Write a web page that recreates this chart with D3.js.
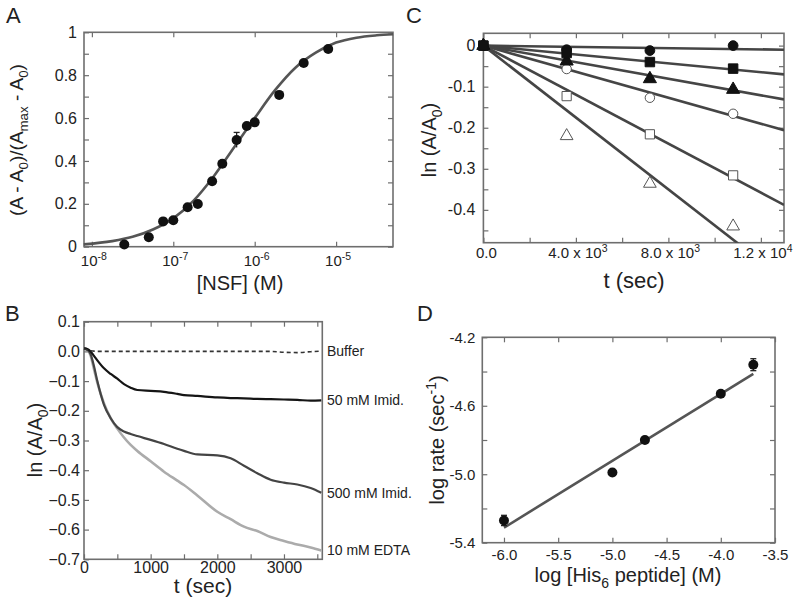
<!DOCTYPE html>
<html><head><meta charset="utf-8">
<script src="https://cdn.jsdelivr.net/npm/d3@7"></script>
<style>
body{margin:0;background:#fff}
svg{display:block}
text{font-family:"Liberation Sans",Arial,Helvetica,sans-serif;fill:#222;white-space:pre}
</style>
</head><body>
<svg id="c" width="800" height="603"></svg>
<script>
// ---------- Panel A data ----------
const nsfConc   = [2.5e-8,5e-8,7.5e-8,1e-7,1.5e-7,2e-7,3e-7,4e-7,6e-7,8e-7,1e-6,2e-6,4e-6,8e-6];
const nsfSignal = [0.01,0.044,0.118,0.123,0.184,0.199,0.305,0.387,0.498,0.563,0.58,0.708,0.857,0.922];
const nsfError  = [0,0,0,0,0,0,0,0,0.035,0,0,0,0,0];
const fitLogConc = [-8.1,-7.75,-7.5,-7.25,-7.0,-6.75,-6.5,-6.25,-6.0,-5.75,-5.5,-5.25,-5.0,-4.75,-4.5,-4.3];
const fitSignal  = [0.011,0.026,0.046,0.080,0.132,0.215,0.33,0.465,0.60,0.73,0.835,0.905,0.952,0.975,0.986,0.991];
const aXTicks = [1e-8,1e-7,1e-6,1e-5];
const aXTickExp = ["-8","-7","-6","-5"];
const aYTicks = [0,0.2,0.4,0.6,0.8,1];
const aYTickLabels = ["0","0.2","0.4","0.6","0.8","1"];

// ---------- Panel B data ----------
const bTime    = [0,50,100,150,200,300,400,500,600,700,800,1000,1200,1400,1500,1700,2000,2200,2400,2600,2800,3000,3200,3400,3560];
const bBuffer  = [0.008,0.005,0.002,0.001,0,0,0,0,0,0,0,0,0,0,0,0,0,0,0,0,0,-0.003,-0.004,-0.001,0.001];
const bImid50  = [0.01,0.008,0.0,-0.015,-0.03,-0.057,-0.076,-0.092,-0.11,-0.122,-0.13,-0.133,-0.136,-0.143,-0.147,-0.15,-0.155,-0.157,-0.158,-0.16,-0.161,-0.162,-0.163,-0.166,-0.165];
const bImid500 = [0.01,0.006,-0.01,-0.05,-0.1,-0.18,-0.225,-0.255,-0.27,-0.278,-0.285,-0.298,-0.312,-0.328,-0.335,-0.347,-0.35,-0.36,-0.385,-0.41,-0.432,-0.442,-0.448,-0.46,-0.476];
const bEDTA    = [0.01,0.006,-0.015,-0.06,-0.105,-0.175,-0.225,-0.26,-0.29,-0.315,-0.335,-0.37,-0.405,-0.435,-0.45,-0.485,-0.54,-0.565,-0.59,-0.605,-0.625,-0.638,-0.65,-0.66,-0.67];
const bLabels  = ["Buffer","50 mM Imid.","500 mM Imid.","10 mM EDTA"];
const bXTicks = [0,1000,2000,3000];
const bYTicks = [0.1,0.0,-0.1,-0.2,-0.3,-0.4,-0.5,-0.6,-0.7];

// ---------- Panel C data ----------
const cTime = [0,3600,7200,10800];
const cFilledCircle = [0,-0.01,-0.012,0.0];
const cFilledSquare = [0,-0.018,-0.04,-0.056];
const cFilledTri    = [0,-0.038,-0.081,-0.107];
const cOpenCircle   = [0,-0.057,-0.127,-0.166];
const cOpenSquare   = [0,-0.123,-0.216,-0.316];
const cOpenTri      = [0,-0.22,-0.336,-0.44];
const cFitEnd = [-0.010,-0.070,-0.131,-0.206,-0.388,-0.569]; // fit value at t = 13000
const cXTicks = [0,4000,8000,12000];
const cXTickMain = ["0.0","4.0 x 10","8.0 x 10","1.2 x 10"];
const cXTickExp  = ["","3","3","4"];
const cYTicks = [0,-0.1,-0.2,-0.3,-0.4];
const cYTickLabels = ["0","-0.1","-0.2","-0.3","-0.4"];

// ---------- Panel D data ----------
const dLogPeptide = [-6.0,-5.0,-4.7,-4.0,-3.7];
const dLogRate    = [-5.27,-4.99,-4.80,-4.53,-4.36];
const dError      = [0.03,0,0,0,0.035];
const dFitX = [-6.0,-3.7];
const dFitY = [-5.312,-4.414];
const dXTicks = [-6.0,-5.5,-5.0,-4.5,-4.0,-3.5];
const dYTicks = [-4.2,-4.6,-5.0,-5.4];

// ---------- drawing ----------
const svg = d3.select("#c");
svg.append("rect").attr("width",800).attr("height",603).attr("fill","#fff");
const AXIS = "#6e6e6e";

function frame(x, y) {
  const [x0,x1] = x.range(), [y0,y1] = y.range();
  svg.append("rect").attr("x",x0).attr("y",y1).attr("width",x1-x0).attr("height",y0-y1)
    .attr("fill","none").attr("stroke",AXIS).attr("stroke-width",1.6);
}
function inTicks(axisFn, scale, values, tx, ty, len) {
  const g = svg.append("g").attr("transform",`translate(${tx},${ty})`)
    .call(axisFn(scale).tickValues(values).tickSize(-len).tickFormat(""));
  g.select(".domain").remove();
  g.selectAll("line").attr("stroke",AXIS).attr("stroke-width",1.2);
}
function labelAxis(axisFn, scale, values, fmt, tx, ty, pad, size) {
  const g = svg.append("g").attr("transform",`translate(${tx},${ty})`)
    .call(axisFn(scale).tickValues(values).tickFormat(fmt).tickSize(0).tickPadding(pad));
  g.select(".domain").remove();
  g.selectAll("text").attr("font-size",size).attr("fill","#222")
    .attr("font-family","Liberation Sans, Arial, sans-serif");
  return g;
}
function allFrameTicks(x, y, xt, yt, len, right=true, top=true) {
  const [x0,x1] = x.range(), [y0,y1] = y.range();
  inTicks(d3.axisBottom, x, xt, 0, y0, len);
  if (top) inTicks(d3.axisTop, x, xt, 0, y1, len);
  inTicks(d3.axisLeft, y, yt, x0, 0, len);
  if (right) inTicks(d3.axisRight, y, yt, x1, 0, len);
}
function panelLetter(t, x, y) {
  svg.append("text").attr("x",x).attr("y",y).attr("font-size",22).text(t);
}
function richText(parent, parts, size) {
  parts.forEach(([s,k]) => {
    const sp = parent.append("tspan").text(s);
    if (k === "sub" || k === "sup") sp.attr("font-size", size*0.7);
    else sp.attr("font-size", size);
  });
  let cur = 0;
  parent.selectAll("tspan").each(function(d,i){
    const k = parts[i][1];
    const target = k === "sub" ? size*0.28 : k === "sup" ? -size*0.4 : 0;
    d3.select(this).attr("dy", target - cur);
    cur = target;
  });
}

// ===== Panel A =====
{
  const x = d3.scaleLog().domain([8e-9,5e-5]).range([84,393]);
  const y = d3.scaleLinear().domain([0,1]).range([246.7,32.3]);
  frame(x,y);
  allFrameTicks(x, y, aXTicks, d3.range(0,1.001,0.1), 5);
  labelAxis(d3.axisLeft, y, aYTicks, (d,i)=>aYTickLabels[i], 84, 0, 7, 16);
  aXTicks.forEach((v,i)=>{
    const t = svg.append("text").attr("x",x(v)+2).attr("y",266).attr("text-anchor","middle");
    richText(t, [["10","n"],[aXTickExp[i],"sup"]], 15);
  });
  const line = d3.line().x((d,i)=>x(Math.pow(10,fitLogConc[i]))).y(d=>y(d)).curve(d3.curveMonotoneX);
  svg.append("path").attr("d",line(fitSignal)).attr("fill","none").attr("stroke","#555").attr("stroke-width",2.6);
  nsfConc.forEach((c,i)=>{
    if (nsfError[i] > 0) {
      svg.append("line").attr("x1",x(c)).attr("x2",x(c)).attr("y1",y(nsfSignal[i]-nsfError[i])).attr("y2",y(nsfSignal[i]+nsfError[i]))
        .attr("stroke","#222").attr("stroke-width",1.3);
      svg.append("line").attr("x1",x(c)-3).attr("x2",x(c)+3).attr("y1",y(nsfSignal[i]+nsfError[i])).attr("y2",y(nsfSignal[i]+nsfError[i]))
        .attr("stroke","#222").attr("stroke-width",1.3);
    }
    svg.append("circle").attr("cx",x(c)).attr("cy",y(nsfSignal[i])).attr("r",5).attr("fill","#111");
  });
  const ty = svg.append("text").attr("transform","translate(23,140) rotate(-90)").attr("text-anchor","middle");
  richText(ty, [["(A - A","n"],["0","sub"],[")/(A","n"],["max","sub"],[" - A","n"],["0","sub"],[")","n"]], 19);
  svg.append("text").attr("x",240).attr("y",290).attr("text-anchor","middle").attr("font-size",20).text("[NSF] (M)");
  panelLetter("A", 6, 23);
}

// ===== Panel B =====
{
  const x = d3.scaleLinear().domain([0,3575]).range([84,322.3]);
  const y = d3.scaleLinear().domain([-0.7,0.1]).range([559.3,321.7]);
  frame(x,y);
  allFrameTicks(x, y, d3.range(0,3501,500), d3.range(-0.7,0.1001,0.1), 5, false, true);
  labelAxis(d3.axisLeft, y, bYTicks, d3.format(".1f"), 84, 0, 4, 16);
  labelAxis(d3.axisBottom, x, bXTicks, d3.format("d"), 0, 559.3, 2, 16);
  const line = d3.line().x((d,i)=>x(bTime[i])).y(d=>y(d)).curve(d3.curveMonotoneX);
  const series = [
    [bEDTA, "#ababab", 2.6, null],
    [bImid500, "#444", 2.2, null],
    [bImid50, "#151515", 2.2, null],
    [bBuffer, "#333", 1.6, "4,3"]
  ];
  series.forEach(([vals,col,w,dash])=>{
    const p = svg.append("path").attr("d",line(vals)).attr("fill","none").attr("stroke",col).attr("stroke-width",w);
    if (dash) p.attr("stroke-dasharray",dash);
  });
  const labelY = [bBuffer, bImid50, bImid500, bEDTA].map(s => y(s[s.length-1]));
  bLabels.forEach((t,i)=>{
    svg.append("text").attr("x",327).attr("y",labelY[i]+5).attr("font-size",14).text(t);
  });
  const ty = svg.append("text").attr("transform","translate(42,440) rotate(-90)").attr("text-anchor","middle");
  richText(ty, [["ln (A/A","n"],["0","sub"],[")","n"]], 20);
  svg.append("text").attr("x",203).attr("y",593).attr("text-anchor","middle").attr("font-size",21).text("t (sec)");
  panelLetter("B", 5, 321);
}

// ===== Panel C =====
{
  const x = d3.scaleLinear().domain([0,13000]).range([483.4,784]);
  const y = d3.scaleLinear().domain([-0.48,0.03]).range([242.7,33.3]);
  svg.append("defs").append("clipPath").attr("id","clipC").append("rect")
    .attr("x",483.4).attr("y",33.3).attr("width",784-483.4).attr("height",242.7-33.3);
  frame(x,y);
  allFrameTicks(x, y, d3.range(0,12001,2000), d3.range(-0.45,0.0001,0.05), 5);
  labelAxis(d3.axisLeft, y, cYTicks, (d,i)=>cYTickLabels[i], 483.4, 0, 8, 16);
  cXTicks.forEach((v,i)=>{
    const t = svg.append("text").attr("x",x(v)+(i?2:3)).attr("y",258).attr("text-anchor","middle");
    richText(t, [[cXTickMain[i],"n"],[cXTickExp[i],"sup"]], 15);
  });
  const gl = svg.append("g").attr("clip-path","url(#clipC)");
  cFitEnd.forEach(e=>{
    gl.append("line").attr("x1",x(0)).attr("y1",y(0)).attr("x2",x(13000)).attr("y2",y(e))
      .attr("stroke","#454545").attr("stroke-width",2.6);
  });
  const sets = [
    [cOpenTri, d3.symbolTriangle, 70, false],
    [cOpenSquare, d3.symbolSquare, 85, false],
    [cOpenCircle, d3.symbolCircle, 70, false],
    [cFilledTri, d3.symbolTriangle, 75, true],
    [cFilledCircle, d3.symbolCircle, 75, true],
    [cFilledSquare, d3.symbolSquare, 90, true]
  ];
  sets.forEach(([vals,type,size,filled])=>{
    vals.forEach((v,i)=>{
      svg.append("path").attr("d",d3.symbol().type(type).size(size)())
        .attr("transform",`translate(${x(cTime[i])},${y(v)})`)
        .attr("fill", filled ? "#111" : "#fff")
        .attr("stroke", filled ? "#111" : "#555").attr("stroke-width", 1);
    });
  });
  const ty = svg.append("text").attr("transform","translate(436,140) rotate(-90)").attr("text-anchor","middle");
  richText(ty, [["ln (A/A","n"],["0","sub"],[")","n"]], 20);
  svg.append("text").attr("x",634).attr("y",288).attr("text-anchor","middle").attr("font-size",22).text("t (sec)");
  panelLetter("C", 406, 23);
}

// ===== Panel D =====
{
  const x = d3.scaleLinear().domain([-6.2,-3.5]).range([482.3,775]);
  const y = d3.scaleLinear().domain([-5.4,-4.2]).range([542.7,337.3]);
  frame(x,y);
  allFrameTicks(x, y, dXTicks, d3.range(-5.4,-4.1999,0.2), 5);
  labelAxis(d3.axisLeft, y, dYTicks, d3.format(".1f"), 482.3, 0, 7, 15).selectAll("text").text(d=>d.toFixed(1));
  labelAxis(d3.axisBottom, x, dXTicks, d3.format(".1f"), 0, 542.7, 7, 15).selectAll("text").text(d=>d.toFixed(1));
  const line = d3.line().x((d,i)=>x(dFitX[i])).y(d=>y(d));
  svg.append("path").attr("d",line(dFitY)).attr("fill","none").attr("stroke","#555").attr("stroke-width",2.6);
  dLogPeptide.forEach((v,i)=>{
    if (dError[i] > 0) {
      const e = dError[i];
      svg.append("line").attr("x1",x(v)).attr("x2",x(v)).attr("y1",y(dLogRate[i]-e)).attr("y2",y(dLogRate[i]+e))
        .attr("stroke","#222").attr("stroke-width",1.3);
      [e,-e].forEach(s=>svg.append("line").attr("x1",x(v)-3).attr("x2",x(v)+3).attr("y1",y(dLogRate[i]+s)).attr("y2",y(dLogRate[i]+s))
        .attr("stroke","#222").attr("stroke-width",1.3));
    }
    svg.append("circle").attr("cx",x(v)).attr("cy",y(dLogRate[i])).attr("r",5).attr("fill","#111");
  });
  const ty = svg.append("text").attr("transform","translate(444,440) rotate(-90)").attr("text-anchor","middle");
  richText(ty, [["log rate (sec","n"],["-1","sup"],[")","n"]], 20);
  const tx = svg.append("text").attr("x",628).attr("y",582).attr("text-anchor","middle");
  richText(tx, [["log [His","n"],["6","sub"],[" peptide] (M)","n"]], 20);
  panelLetter("D", 417, 321);
}
</script>
</body></html>
